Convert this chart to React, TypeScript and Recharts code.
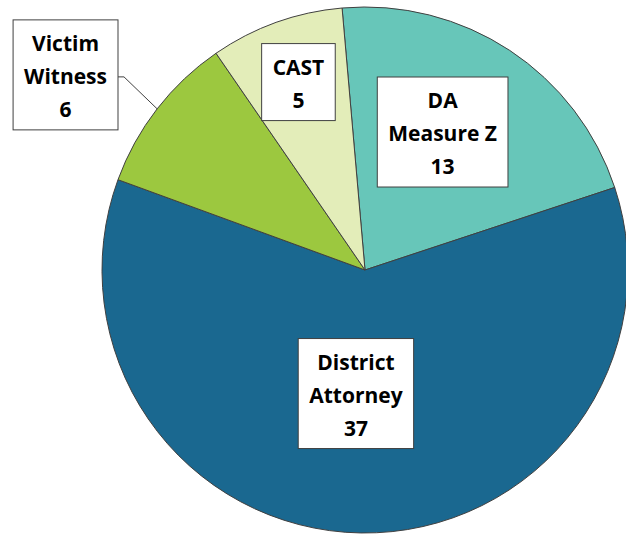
import { PieChart, Pie, Cell } from 'recharts';

// slice order runs clockwise from the top
const categories = ['DA Measure Z', 'District Attorney', 'Victim Witness', 'CAST'];
const amounts = [13, 37, 6, 5];
const labelText = [['DA', 'Measure Z'], ['District', 'Attorney'], ['Victim', 'Witness'], ['CAST']];

const colors = ['#67C6B9', '#1A6890', '#9CC83F', '#E3EDB9'];

// where each callout box sits, relative to the slice middle
const labelRadius = [0.602, 0.471, 1.359, 0.758];
const labelTurn = [4, -3.3, 4.7, -0.25];
const hasLeader = [false, false, true, false];

const FONT = '"Open Sans", Lato, sans-serif';
const FONT_SIZE = 21;
const LINE_GAP = 33;
const RADIAN = Math.PI / 180;

let ctx: CanvasRenderingContext2D | null = null;
const textWidth = (s: string) => {
  if (!ctx) ctx = document.createElement('canvas').getContext('2d');
  if (!ctx) return s.length * 12;
  ctx.font = `bold ${FONT_SIZE}px ${FONT}`;
  return ctx.measureText(s).width;
};

const data = categories.map((name, i) => ({ name, value: amounts[i] }));

const renderLabel = (props: any) => {
  const { cx, cy, midAngle, outerRadius, index, value } = props;
  const ang = (midAngle + labelTurn[index]) * RADIAN;
  const r = outerRadius * labelRadius[index];
  const x = cx + r * Math.cos(-ang);
  const y = cy + r * Math.sin(-ang);
  const lines = [...labelText[index], String(value)];
  const w = Math.max(...lines.map(textWidth)) + 22;
  const h = (lines.length - 1) * LINE_GAP + 44;
  const left = x - w / 2;
  const top = y - h / 2;

  let leader = null;
  if (hasLeader[index]) {
    const ex = cx + outerRadius * Math.cos(-midAngle * RADIAN);
    const ey = cy + outerRadius * Math.sin(-midAngle * RADIAN);
    const bx = left + w;
    const by = y + 2;
    leader = (
      <polyline
        points={`${ex},${ey} ${bx + 6},${by} ${bx},${by}`}
        fill="none"
        stroke="#404040"
        strokeWidth={1}
      />
    );
  }

  return (
    <g key={`lbl-${index}`}>
      {leader}
      <rect x={left} y={top} width={w} height={h} fill="#ffffff" stroke="#404040" strokeWidth={1} />
      {lines.map((t, k) => (
        <text
          key={k}
          x={x}
          y={y + (k - (lines.length - 1) / 2) * LINE_GAP + 1}
          textAnchor="middle"
          dominantBaseline="central"
          fontFamily={FONT}
          fontWeight="bold"
          fontSize={FONT_SIZE}
          fill="#000000"
        >
          {t}
        </text>
      ))}
    </g>
  );
};

export default function App() {
  return (
    <div style={{ position: 'absolute', left: 0, top: 0, width: 626, height: 535, background: '#fff' }}>
      <PieChart width={626} height={535} margin={{ top: 0, right: 0, bottom: 0, left: 0 }}>
        <Pie
          data={data}
          dataKey="value"
          nameKey="name"
          cx={365}
          cy={270}
          outerRadius={263}
          startAngle={95}
          endAngle={-265}
          stroke="#404040"
          strokeWidth={1}
          label={renderLabel}
          labelLine={false}
          isAnimationActive={false}
        >
          {data.map((d, i) => (
            <Cell key={d.name} fill={colors[i]} />
          ))}
        </Pie>
      </PieChart>
    </div>
  );
}
